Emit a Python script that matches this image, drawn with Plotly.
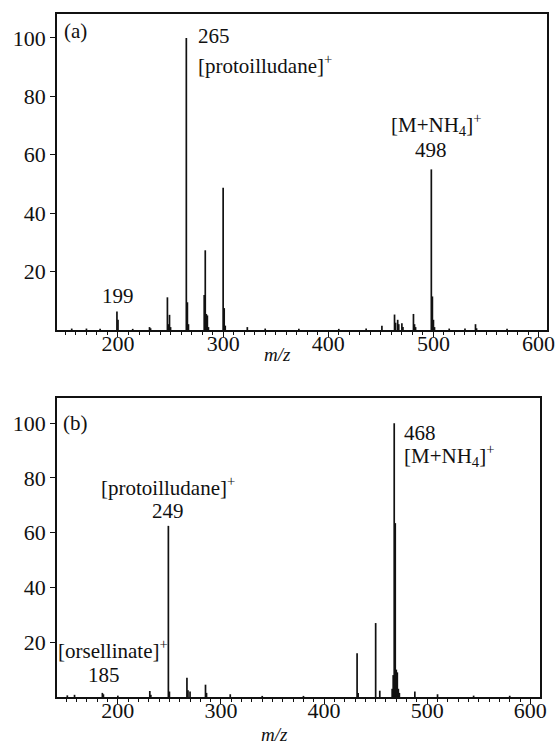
import plotly.graph_objects as go

# ---- data: panel (a) ----
mz_a = [156, 170, 183, 199, 200, 214, 230, 231, 247, 248, 249, 250, 265, 266, 267,
        282, 283, 284, 285, 286, 300, 301, 302, 323, 340, 372, 410, 436, 451,
        463, 464, 466, 467, 470, 471, 481, 482, 483, 498, 499, 500, 501, 515, 530, 540, 541, 570]
int_a = [0.5, 0.5, 0.4, 6.3, 3.5, 0.4, 1.0, 0.6, 11.2, 2.0, 5.2, 1.0, 100, 9.5, 2.0,
         12, 27.3, 5.5, 5.0, 1.0, 48.7, 7.5, 1.5, 1.0, 0.5, 0.4, 0.4, 0.5, 1.5,
         5.3, 2.5, 3.5, 2.0, 2.3, 1.0, 5.5, 2.0, 1.0, 55, 11.5, 3.5, 1.0, 0.5, 0.5, 2.0, 0.6, 0.4]

# ---- data: panel (b) ----
mz_b = [151, 158, 185, 186, 200, 231, 232, 249, 250, 267, 268, 270, 285, 286, 309,
        340, 380, 432, 433, 450, 454, 466, 467, 468, 469, 470, 471, 472, 473, 488, 510, 545, 580]
int_b = [0.6, 0.8, 1.5, 1.0, 0.5, 2.2, 0.8, 62.5, 2.0, 7.0, 2.5, 2.0, 4.5, 1.5, 1.0,
         0.4, 0.4, 16, 1.5, 27, 2.3, 3.0, 8.0, 100, 63.5, 10, 9, 3.0, 1.5, 2.0, 1.0, 0.5, 0.5]

x_ticks = [200, 300, 400, 500, 600]
y_ticks = [20, 40, 60, 80, 100]

FONT = "Liberation Serif"
INK = "#111111"


def sticks(mz, inten):
    xs, ys = [], []
    for m, h in zip(mz, inten):
        xs += [m, m, None]
        ys += [0, h, None]
    return xs, ys


fig = go.Figure()
xa, ya = sticks(mz_a, int_a)
xb, yb = sticks(mz_b, int_b)
fig.add_trace(go.Scatter(x=xa, y=ya, mode="lines", line=dict(color=INK, width=1.7),
                         xaxis="x", yaxis="y", showlegend=False, hoverinfo="skip"))
fig.add_trace(go.Scatter(x=xb, y=yb, mode="lines", line=dict(color=INK, width=1.7),
                         xaxis="x2", yaxis="y2", showlegend=False, hoverinfo="skip"))

axis_common = dict(showline=True, linecolor=INK, linewidth=1.6, mirror=True,
                   showgrid=False, zeroline=False, ticks="outside", tickcolor=INK,
                   ticklabeloverflow="allow",
                   tickfont=dict(family=FONT, size=22, color=INK))
minor_x = dict(dtick=10, tick0=0, ticks="outside", ticklen=3, tickcolor=INK)

fig.update_layout(
    width=556, height=744,
    margin=dict(l=57, r=1, t=14, b=47),
    paper_bgcolor="white", plot_bgcolor="white",
    font=dict(family=FONT, color=INK),
    xaxis=dict(domain=[0, 1], range=[142, 608], anchor="y", tickvals=x_ticks, ticklen=5,
               ticklabelstandoff=-12, minor=minor_x, **axis_common),
    yaxis=dict(domain=[0.5373, 1], range=[0, 108.2], anchor="x", tickvals=y_ticks, ticklen=5,
               **axis_common),
    xaxis2=dict(domain=[0, 0.986], range=[141, 609.5], anchor="y2", tickvals=x_ticks, ticklen=5,
                ticklabelstandoff=-12, minor=minor_x, **axis_common),
    yaxis2=dict(domain=[0, 0.4378], range=[0, 109.2], anchor="x2", tickvals=y_ticks, ticklen=5,
                **axis_common),
)


def ann(text, x, y, xref, yref, xanchor="center", size=21):
    fig.add_annotation(text=text, x=x, y=y, xref=xref, yref=yref, xanchor=xanchor,
                       yanchor="middle", showarrow=False,
                       font=dict(family=FONT, size=size, color=INK))


# panel (a) labels
ann("(a)", 159.7, 102.4, "x", "y")
ann("265", 274, 100.7, "x", "y", xanchor="left")
ann("[protoilludane]<sup>+</sup>", 274, 90.8, "x", "y", xanchor="left")
ann("[M+NH<sub>4</sub>]<sup>+</sup>", 502, 70.2, "x", "y")
ann("498", 498, 61.7, "x", "y")
ann("199", 200, 11.8, "x", "y")
ann("<i>m/z</i>", 352, -0.078, "x", "y domain", size=19)

# panel (b) labels
ann("(b)", 159, 100.2, "x2", "y2")
ann("[protoilludane]<sup>+</sup>", 249, 77.0, "x2", "y2")
ann("249", 249, 68.0, "x2", "y2")
ann("[orsellinate]<sup>+</sup>", 195, 17.2, "x2", "y2")
ann("185", 186.6, 8.0, "x2", "y2")
ann("468", 475.8, 96.5, "x2", "y2", xanchor="left")
ann("[M+NH<sub>4</sub>]<sup>+</sup>", 475.8, 88.1, "x2", "y2", xanchor="left")
ann("<i>m/z</i>", 352, -0.125, "x2", "y2 domain", size=19)

fig.write_html("out.html", config={"displayModeBar": False},
               post_script="document.body.style.margin='0';")
